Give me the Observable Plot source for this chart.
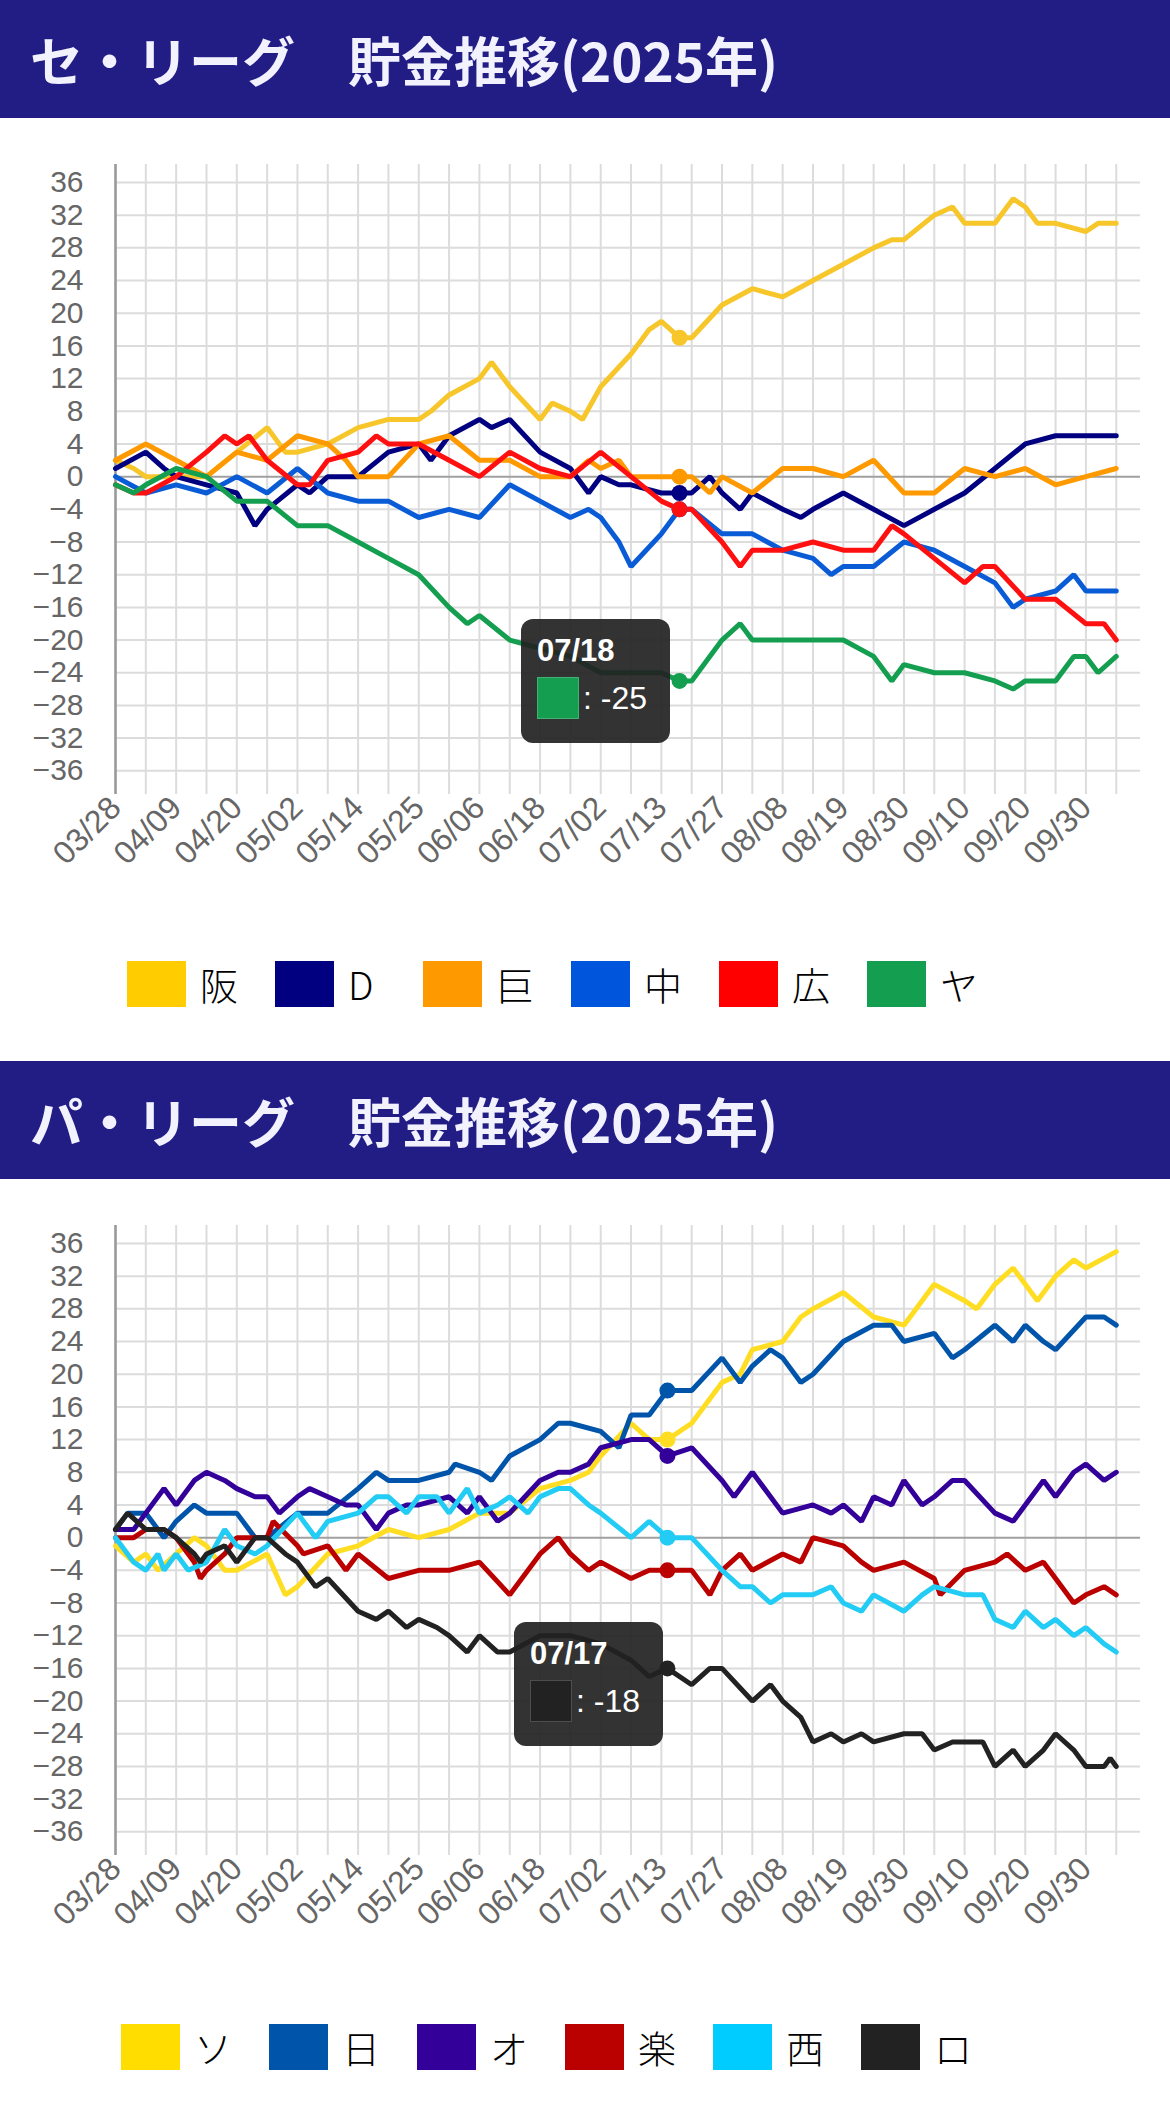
<!DOCTYPE html>
<html><head><meta charset="utf-8">
<script src="https://cdn.jsdelivr.net/npm/d3@7"></script>
<script src="https://cdn.jsdelivr.net/npm/@observablehq/plot@0.6"></script>
<style>
body{margin:0;background:#fff;width:1170px;height:2111px;position:relative;overflow:hidden;font-family:"Liberation Sans","Noto Sans CJK JP",sans-serif}
.band{position:absolute;left:0;width:1170px;height:118px;background:#221c85;color:#f2f2ff;font-family:"Noto Sans CJK JP",sans-serif;font-weight:700;font-size:53px;line-height:118px;padding-left:30px;box-sizing:border-box}
.chart{position:absolute;left:0}
.legend{position:absolute;display:flex}
.item{width:148px;display:flex;align-items:center;font-family:"Noto Sans CJK JP",sans-serif;font-weight:300;font-size:38px;color:#000}
.sw{width:59px;height:46px;margin-right:14px}
.tip{position:absolute;background:rgba(34,34,34,0.92);border-radius:12px;color:#fff;width:149px;height:124px;box-sizing:border-box;padding:14px 0 0 16px}
.tip .d{font-weight:700;font-size:31px}
.tip .r{display:flex;align-items:center;margin-top:8px;font-size:32px}
.tip .s{width:40px;height:40px;margin-right:4px;border:1px solid #fff3}
</style></head><body>
<div class="band" style="top:0">セ・リーグ　貯金推移(2025年)</div>
<div class="band" style="top:1061px">パ・リーグ　貯金推移(2025年)</div>
<div id="c1" class="chart" style="top:118px"></div>
<div id="c2" class="chart" style="top:1179px"></div>
<div id="l1" class="legend" style="top:956px;left:127px"></div>
<div id="l2" class="legend" style="top:2019px;left:121px"></div>
<div class="tip" style="left:521px;top:619px"><div class="d">07/18</div><div class="r"><div class="s" style="background:#149e50"></div>: -25</div></div>
<div class="tip" style="left:514px;top:1622px"><div class="d">07/17</div><div class="r"><div class="s" style="background:#222"></div>: -18</div></div>
<script>
const tickIdx=[0,10,20,30,40,50,60,70,80,90,100,110,120,130,140,150,160];
const tickLabels=["03/28","04/09","04/20","05/02","05/14","05/25","06/06","06/18","07/02","07/13","07/27","08/08","08/19","08/30","09/10","09/20","09/30"];
const yTicks=[36,32,28,24,20,16,12,8,4,0,-4,-8,-12,-16,-20,-24,-28,-32,-36];

const ceTeams=["阪","D","巨","中","広","ヤ"];
const ceColors=["#f7c62a","#000080","#ff9900","#0a5bd6","#ff1010","#149e50"];
const ceLegendColors=["#ffcc00","#000080","#ff9900","#0055dd","#ff0000","#149e50"];
const ceHover=93;
const hanshin=[[0,2],[3,1],[5,0],[10,0],[15,0],[20,3],[25,6],[28,3],[30,3],[35,4],[40,6],[45,7],[50,7],[52,8],[55,10],[60,12],[62,14],[65,11],[70,7],[72,9],[75,8],[77,7],[80,11],[85,15],[88,18],[90,19],[93,17],[95,17],[100,21],[105,23],[110,22],[115,24],[120,26],[125,28],[128,29],[130,29],[135,32],[138,33],[140,31],[145,31],[148,34],[150,33],[152,31],[155,31],[160,30],[162,31],[165,31]];
const dena=[[0,1],[5,3],[8,1],[10,0],[15,-1],[20,-2],[23,-6],[25,-4],[30,-1],[32,-2],[35,0],[40,0],[45,3],[50,4],[52,2],[55,5],[60,7],[62,6],[65,7],[70,3],[75,1],[78,-2],[80,0],[83,-1],[85,-1],[90,-2],[93,-2],[95,-2],[98,0],[100,-2],[103,-4],[105,-2],[110,-4],[113,-5],[115,-4],[120,-2],[125,-4],[130,-6],[135,-4],[140,-2],[145,1],[150,4],[155,5],[160,5],[165,5]];
const giants=[[0,2],[5,4],[10,2],[15,0],[20,3],[25,2],[30,5],[35,4],[38,2],[40,0],[45,0],[50,4],[55,5],[60,2],[65,2],[70,0],[75,0],[78,2],[80,1],[83,2],[85,0],[90,0],[93,0],[95,0],[98,-2],[100,0],[105,-2],[110,1],[115,1],[120,0],[125,2],[130,-2],[135,-2],[140,1],[145,0],[150,1],[155,-1],[160,0],[165,1]];
const chunichi=[[0,0],[5,-2],[10,-1],[15,-2],[20,0],[25,-2],[30,1],[35,-2],[40,-3],[45,-3],[50,-5],[55,-4],[60,-5],[65,-1],[70,-3],[75,-5],[78,-4],[80,-5],[83,-8],[85,-11],[90,-7],[93,-4],[95,-4],[100,-7],[105,-7],[110,-9],[115,-10],[118,-12],[120,-11],[125,-11],[130,-8],[135,-9],[140,-11],[145,-13],[148,-16],[150,-15],[155,-14],[158,-12],[160,-14],[165,-14]];
const hiroshima=[[0,-1],[3,-2],[5,-2],[10,0],[15,3],[18,5],[20,4],[22,5],[25,2],[30,-1],[32,-1],[35,2],[40,3],[43,5],[45,4],[50,4],[55,2],[60,0],[65,3],[70,1],[75,0],[80,3],[85,0],[90,-3],[93,-4],[95,-4],[100,-8],[103,-11],[105,-9],[110,-9],[115,-8],[120,-9],[125,-9],[128,-6],[130,-7],[135,-10],[140,-13],[143,-11],[145,-11],[150,-15],[155,-15],[160,-18],[163,-18],[165,-20]];
const yakult=[[0,-1],[3,-2],[5,-1],[10,1],[15,0],[20,-3],[25,-3],[30,-6],[35,-6],[40,-8],[45,-10],[50,-12],[55,-16],[58,-18],[60,-17],[65,-20],[70,-21],[75,-22],[80,-24],[85,-24],[90,-24],[93,-25],[95,-25],[100,-20],[103,-18],[105,-20],[110,-20],[115,-20],[120,-20],[125,-22],[128,-25],[130,-23],[135,-24],[140,-24],[145,-25],[148,-26],[150,-25],[155,-25],[158,-22],[160,-22],[162,-24],[165,-22]];

const paTeams=["ソ","日","オ","楽","西","ロ"];
const paColors=["#ffdd22","#0055aa","#330099","#bb0000","#22ccf5","#222222"];
const paLegendColors=["#ffdd00","#0055aa","#330099","#bb0000","#00ccff","#222222"];
const paHover=91;
const softbank=[[0,-1],[3,-3],[5,-2],[7,-4],[10,-2],[13,0],[15,-1],[18,-4],[20,-4],[25,-2],[28,-7],[30,-6],[35,-2],[40,-1],[45,1],[50,0],[55,1],[60,3],[65,3],[70,6],[75,7],[78,8],[80,10],[85,14],[88,12],[91,12],[95,14],[100,19],[103,20],[105,23],[110,24],[113,27],[115,28],[120,30],[125,27],[130,26],[135,31],[140,29],[142,28],[145,31],[148,33],[150,31],[152,29],[155,32],[158,34],[160,33],[165,35]];
const nippon=[[0,1],[2,3],[5,3],[8,0],[10,2],[13,4],[15,3],[20,3],[23,0],[25,0],[30,3],[35,3],[40,6],[43,8],[45,7],[50,7],[55,8],[56,9],[60,8],[62,7],[65,10],[70,12],[73,14],[75,14],[80,13],[83,11],[85,15],[88,15],[91,18],[95,18],[100,22],[103,19],[105,21],[108,23],[110,22],[113,19],[115,20],[120,24],[125,26],[128,26],[130,24],[135,25],[138,22],[140,23],[145,26],[148,24],[150,26],[153,24],[155,23],[160,27],[163,27],[165,26]];
const orix=[[0,1],[3,1],[5,3],[8,6],[10,4],[13,7],[15,8],[18,7],[20,6],[23,5],[25,5],[27,3],[30,5],[32,6],[35,5],[38,4],[40,4],[43,1],[45,3],[48,4],[50,4],[55,5],[58,3],[60,5],[63,2],[65,3],[70,7],[73,8],[75,8],[78,9],[80,11],[85,12],[88,12],[91,10],[95,11],[100,7],[102,5],[105,8],[110,3],[115,4],[118,3],[120,4],[123,2],[125,5],[128,4],[130,7],[133,4],[135,5],[138,7],[140,7],[145,3],[148,2],[150,4],[153,7],[155,5],[158,8],[160,9],[163,7],[165,8]];
const rakuten=[[0,0],[3,0],[5,1],[8,1],[10,0],[13,-3],[14,-5],[15,-4],[18,-2],[20,0],[25,0],[26,2],[30,-1],[31,-2],[35,-1],[38,-4],[40,-2],[45,-5],[50,-4],[55,-4],[60,-3],[65,-7],[70,-2],[73,0],[75,-2],[78,-4],[80,-3],[85,-5],[88,-4],[91,-4],[95,-4],[98,-7],[100,-4],[103,-2],[105,-4],[110,-2],[113,-3],[115,0],[120,-1],[123,-3],[125,-4],[130,-3],[135,-5],[136,-7],[140,-4],[145,-3],[147,-2],[150,-4],[153,-3],[155,-5],[158,-8],[160,-7],[163,-6],[165,-7]];
const seibu=[[0,0],[3,-3],[5,-4],[7,-2],[8,-4],[10,-2],[12,-4],[15,-3],[18,1],[20,-1],[23,-2],[25,-1],[30,3],[33,0],[35,2],[40,3],[43,5],[45,5],[48,3],[50,5],[53,5],[55,3],[58,6],[60,3],[63,4],[65,5],[68,3],[70,5],[73,6],[75,6],[78,4],[80,3],[85,0],[88,2],[91,0],[95,0],[100,-4],[103,-6],[105,-6],[108,-8],[110,-7],[115,-7],[118,-6],[120,-8],[123,-9],[125,-7],[130,-9],[133,-7],[135,-6],[140,-7],[143,-7],[145,-10],[148,-11],[150,-9],[153,-11],[155,-10],[158,-12],[160,-11],[163,-13],[165,-14]];
const lotte=[[0,1],[2,3],[5,1],[8,1],[10,0],[13,-2],[14,-3],[15,-2],[18,-1],[20,-3],[23,0],[25,0],[28,-2],[30,-3],[33,-6],[35,-5],[40,-9],[43,-10],[45,-9],[48,-11],[50,-10],[53,-11],[55,-12],[58,-14],[60,-12],[63,-14],[65,-14],[70,-12],[75,-12],[80,-13],[85,-15],[88,-17],[91,-16],[95,-18],[98,-16],[100,-16],[105,-20],[108,-18],[110,-20],[113,-22],[115,-25],[118,-24],[120,-25],[123,-24],[125,-25],[130,-24],[133,-24],[135,-26],[138,-25],[140,-25],[143,-25],[145,-28],[148,-26],[150,-28],[153,-26],[155,-24],[158,-26],[160,-28],[163,-28],[164,-27],[165,-28]];

function build(series, teams, colors, hover){
  const rows=[];
  series.forEach((s,k)=>s.forEach(([i,v])=>rows.push({i,v,team:teams[k],color:colors[k]})));
  const dots=rows.filter(d=>d.i===hover);
  const gridX=d3.range(0,166,5);
  const lbl=new Map(tickIdx.map((t,k)=>[t,tickLabels[k]]));
  const Y0=-38.9, Y1=38.2;
  return Plot.plot({
    width:1170,height:830,marginLeft:115,marginRight:30,marginTop:46,marginBottom:154,
    x:{domain:[0,169],axis:null},y:{domain:[Y0,Y1],axis:null},
    style:{fontFamily:"Liberation Sans, Arial, sans-serif",background:"transparent"},
    marks:[
      Plot.ruleX(gridX,{stroke:"#dcdcdc",strokeWidth:2,y1:Y0,y2:Y1}),
      Plot.ruleY(yTicks.filter(t=>t!==0),{stroke:"#dcdcdc",strokeWidth:2}),
      Plot.ruleY([0],{stroke:"#a0a0a0",strokeWidth:2}),
      Plot.ruleX([0],{stroke:"#999",strokeWidth:2.5,y1:Y0,y2:Y1}),
      Plot.line(rows,{x:"i",y:"v",z:"team",stroke:"color",strokeWidth:5,strokeLinejoin:"miter"}),
      Plot.dot(dots,{x:"i",y:"v",fill:"color",r:8,stroke:null}),
      Plot.axisY(yTicks,{tickSize:0,tickPadding:32,fontSize:30,fill:"#666",anchor:"left",label:null}),
      Plot.axisX(tickIdx,{tickSize:0,tickPadding:8,fontSize:32,fill:"#666",tickRotate:-45,tickFormat:d=>lbl.get(d),anchor:"bottom",label:null})
    ]
  });
}
function legend(el,teams,colors){
  teams.forEach((t,k)=>{
    const it=document.createElement("div");it.className="item";
    it.innerHTML=`<div class="sw" style="background:${colors[k]}"></div><span>${t}</span>`;
    el.appendChild(it);
  });
}
document.getElementById("c1").appendChild(build([hanshin,dena,giants,chunichi,hiroshima,yakult],ceTeams,ceColors,ceHover));
document.getElementById("c2").appendChild(build([softbank,nippon,orix,rakuten,seibu,lotte],paTeams,paColors,paHover));
legend(document.getElementById("l1"),ceTeams,ceLegendColors);
legend(document.getElementById("l2"),paTeams,paLegendColors);
</script></body></html>
